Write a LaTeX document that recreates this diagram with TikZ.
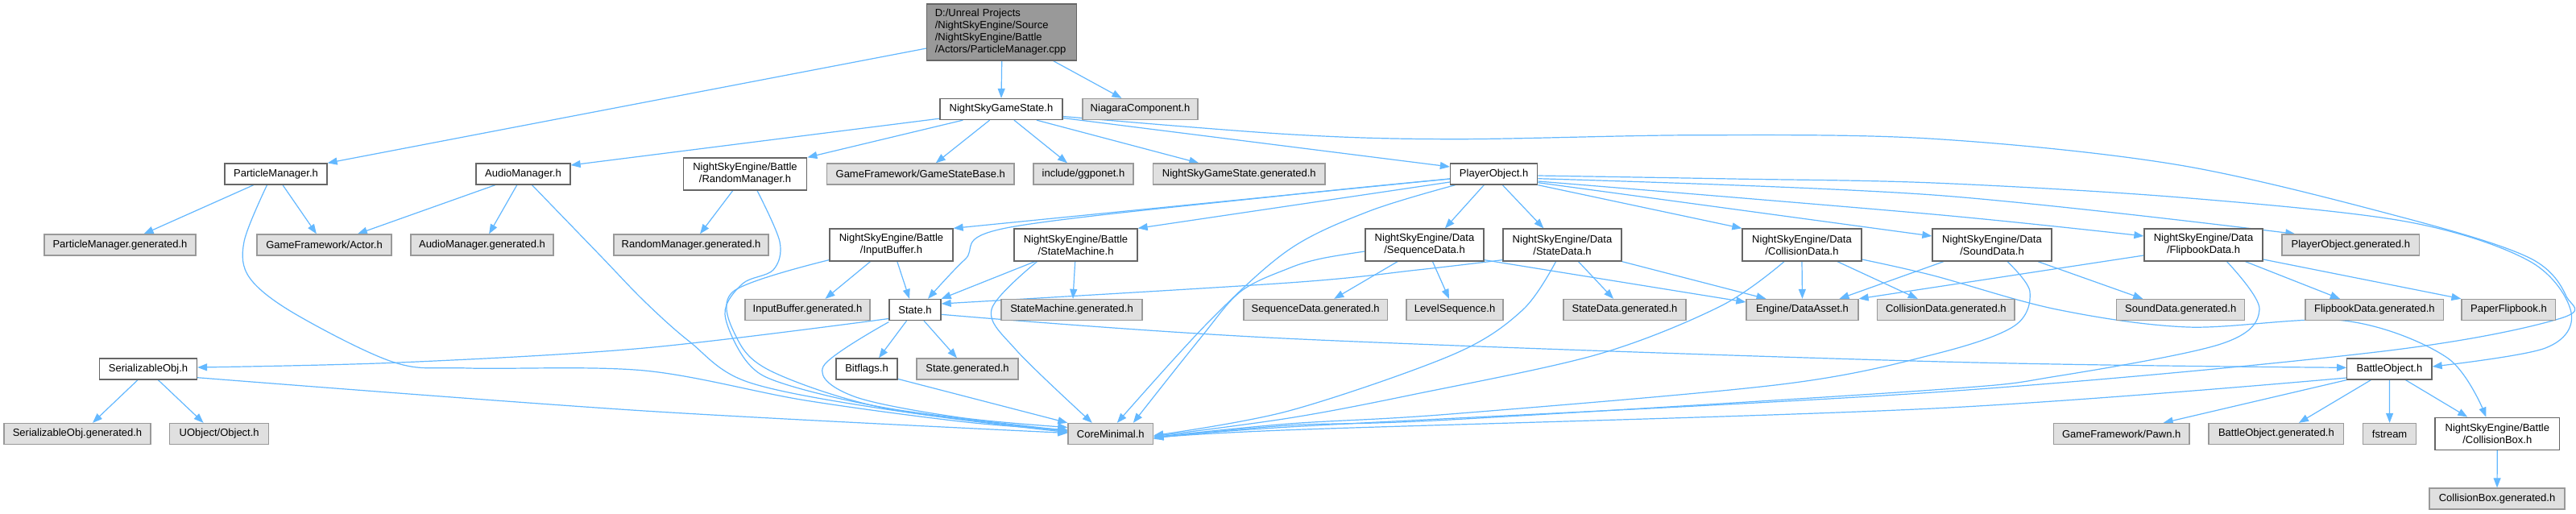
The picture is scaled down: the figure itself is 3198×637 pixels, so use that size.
\documentclass[tikz,border=0pt]{standalone}
\usepackage{fontspec}
\setmainfont{Liberation Sans}
\usetikzlibrary{arrows.meta}
\definecolor{edgeblue}{HTML}{63B8FF}
\definecolor{wborder}{HTML}{666666}
\definecolor{gborder}{HTML}{999999}
\definecolor{gfill}{HTML}{E0E0E0}
\definecolor{mainfill}{HTML}{999999}
\pgfdeclarelayer{bg}
\pgfsetlayers{bg,main}
\tikzset{
  base/.style={rectangle, line width=1.3pt, font=\fontsize{13}{15}\selectfont, inner xsep=2pt, inner ysep=0pt, minimum height=26pt, text=black},
  wbox/.style={base, draw=wborder, fill=white},
  gbox/.style={base, draw=gborder, fill=gfill},
  two/.style={minimum height=40pt, align=center},
  mainbox/.style={base, draw=wborder, fill=mainfill, minimum height=70pt, text width=166pt, inner xsep=10pt, align=left},
  edge/.style={draw=edgeblue, line width=1.2pt, -{Triangle[length=12pt,width=9pt]}},
  sm/.style={smooth, tension=0.55}
}
\begin{document}
\begin{tikzpicture}[x=1pt,y=-1pt]
\useasboundingbox (0,0) rectangle (3198,637);
% nodes
\node[mainbox] (main) at (1243.75,40) {D:/Unreal Projects\\/NightSkyEngine/Source\\/NightSkyEngine/Battle\\/Actors/ParticleManager.cpp};
\node[wbox, minimum width=152pt] (nsgs) at (1243,135.5) {NightSkyGameState.h};
\node[gbox, minimum width=143pt] (niagara) at (1415.5,135.5) {NiagaraComponent.h};
\node[wbox, minimum width=127pt] (pm) at (342.5,216) {ParticleManager.h};
\node[wbox, minimum width=117pt] (audio) at (649.5,216) {AudioManager.h};
\node[wbox, two, minimum width=153.5pt] (random) at (925,216) {NightSkyEngine/Battle\\/RandomManager.h};
\node[gbox, minimum width=232.5pt] (gsbase) at (1142.75,216) {GameFramework/GameStateBase.h};
\node[gbox, minimum width=124pt] (ggpo) at (1345,216) {include/ggponet.h};
\node[gbox, minimum width=213.4pt] (nsgsgen) at (1538.3,216) {NightSkyGameState.generated.h};
\node[wbox, minimum width=108.2pt] (player) at (1854.6,216) {PlayerObject.h};
\node[gbox, minimum width=188pt] (pmgen) at (149,304) {ParticleManager.generated.h};
\node[gbox, minimum width=167pt] (actor) at (402.5,304) {GameFramework/Actor.h};
\node[gbox, minimum width=177pt] (audiogen) at (598.5,304) {AudioManager.generated.h};
\node[gbox, minimum width=192pt] (randgen) at (858,304) {RandomManager.generated.h};
\node[wbox, two, minimum width=153pt] (input) at (1106.5,304) {NightSkyEngine/Battle\\/InputBuffer.h};
\node[wbox, two, minimum width=153pt] (smach) at (1335.5,304) {NightSkyEngine/Battle\\/StateMachine.h};
\node[wbox, two, minimum width=147pt] (seq) at (1768.5,304) {NightSkyEngine/Data\\/SequenceData.h};
\node[wbox, two, minimum width=147pt] (sdata) at (1939.5,304) {NightSkyEngine/Data\\/StateData.h};
\node[wbox, two, minimum width=148pt] (coll) at (2237,304) {NightSkyEngine/Data\\/CollisionData.h};
\node[wbox, two, minimum width=148pt] (sound) at (2473,304) {NightSkyEngine/Data\\/SoundData.h};
\node[wbox, two, minimum width=147pt] (flip) at (2735.5,304) {NightSkyEngine/Data\\/FlipbookData.h};
\node[gbox, minimum width=170.6pt] (pogen) at (2918.3,304) {PlayerObject.generated.h};
\node[gbox, minimum width=155pt] (ibgen) at (1002.5,384.5) {InputBuffer.generated.h};
\node[wbox, minimum width=64pt] (state) at (1136,384.5) {State.h};
\node[gbox, minimum width=175pt] (smgen) at (1330.5,384.5) {StateMachine.generated.h};
\node[gbox, minimum width=178.4pt] (seqgen) at (1633.2,384.5) {SequenceData.generated.h};
\node[gbox, minimum width=120pt] (levelseq) at (1806,384.5) {LevelSequence.h};
\node[gbox, minimum width=152pt] (sdgen) at (2017,384.5) {StateData.generated.h};
\node[gbox, minimum width=139pt] (dataasset) at (2237.5,384.5) {Engine/DataAsset.h};
\node[gbox, minimum width=170.4pt] (cdgen) at (2415.8,384.5) {CollisionData.generated.h};
\node[gbox, minimum width=159pt] (soundgen) at (2707.2,384.5) {SoundData.generated.h};
\node[gbox, minimum width=171.7pt] (flipgen) at (2947.9,384.5) {FlipbookData.generated.h};
\node[gbox, minimum width=116.7pt] (paper) at (3114.4,384.5) {PaperFlipbook.h};
\node[wbox, minimum width=121pt] (serial) at (184,458) {SerializableObj.h};
\node[wbox, minimum width=76pt] (bitflags) at (1076,458) {Bitflags.h};
\node[gbox, minimum width=126pt] (stategen) at (1201,458) {State.generated.h};
\node[wbox, minimum width=105.2pt] (battle) at (2966.4,458) {BattleObject.h};
\node[gbox, minimum width=182pt] (sogen) at (96,538.5) {SerializableObj.generated.h};
\node[gbox, minimum width=123pt] (uobject) at (272.2,538.5) {UObject/Object.h};
\node[gbox, minimum width=105.7pt] (core) at (1378.8,538.5) {CoreMinimal.h};
\node[gbox, minimum width=168.4pt] (pawn) at (2633.7,538.5) {GameFramework/Pawn.h};
\node[gbox, minimum width=167.7pt] (bogen) at (2825.9,538.5) {BattleObject.generated.h};
\node[gbox, minimum width=65.8pt] (fstream) at (2966.6,538.5) {fstream};
\node[wbox, two, minimum width=154.6pt] (cbox) at (3100.3,538.3) {NightSkyEngine/Battle\\/CollisionBox.h};
\node[gbox, minimum width=168pt] (cbgen) at (3100,619) {CollisionBox.generated.h};
% edges
\begin{pgfonlayer}{bg}
\fill[white] (0,0) rectangle (3198,637);
% main
\draw[edge] ([yshift=-20pt]main.west) -- (pm.north east);
\draw[edge] (main.south) -- (nsgs.north);
\draw[edge] ([xshift=64pt]main.south) -- ([xshift=-23pt]niagara.north);
% NightSkyGameState
\draw[edge] ([yshift=2pt]nsgs.south west) -- ([yshift=11pt]audio.east);
\draw[edge] ([xshift=-47.6pt]nsgs.south) -- (random.north east);
\draw[edge] ([xshift=-14.4pt]nsgs.south) -- ([xshift=19pt]gsbase.north);
\draw[edge] ([xshift=16pt]nsgs.south) -- ([xshift=-20pt]ggpo.north);
\draw[edge] ([xshift=44pt]nsgs.south) -- ([xshift=-50pt]nsgsgen.north);
\draw[edge] ([yshift=-11pt]nsgs.east) -- ([yshift=9pt]player.west);
\draw[edge] plot[sm] coordinates {([yshift=-9pt]nsgs.east) (1600,166.7) (1804,172.7) (2110,167.7) (2400,172.3) (2706,205) (2987,271) (3140,320) (3186,368) (3176,396) (2950,437) (2400,487) (1600,530) ([yshift=-6.5pt]core.east)};
% ParticleManager
\draw[edge] ([xshift=-27.7pt]pm.south) -- ([xshift=29.6pt]pmgen.north);
\draw[edge] ([xshift=8.5pt]pm.south) -- ([xshift=-9.6pt]actor.north);
\draw[edge] plot[sm] coordinates {([xshift=-11pt]pm.south) (303,300) (310,345) (367,390) (490,450) (582,457) (800,460) (1000,497) (1200,524) ([yshift=5pt]core.west)};
% AudioManager
\draw[edge] ([xshift=-34.7pt]audio.south) -- ([xshift=41.4pt]actor.north);
\draw[edge] ([xshift=-7.7pt]audio.south) -- ([xshift=8.6pt]audiogen.north);
\draw[edge] plot[sm] coordinates {([xshift=11pt]audio.south) (745,317) (800,374) (856,424) (928,474) (1100,508) ([yshift=3pt]core.west)};
% RandomManager
\draw[edge] ([xshift=-15.3pt]random.south) -- ([xshift=11pt]randgen.north);
\draw[edge] plot[sm] coordinates {([xshift=15pt]random.south) (968,300) (960,335) (922,352) (900,390) (928,450) (975,477) (1110,508) ([yshift=4pt]core.west)};
% InputBuffer
\draw[edge] ([xshift=-26pt]input.south) -- ([xshift=22pt]ibgen.north);
\draw[edge] ([xshift=7.3pt]input.south) -- ([xshift=-7pt]state.north);
\draw[edge] plot[sm] coordinates {([yshift=2pt]input.south west) (910,362) (915,420) (960,462) (1100,507) ([yshift=2pt]core.west)};
% StateMachine
\draw[edge] ([xshift=-0.8pt]smach.south) -- ([xshift=1.5pt]smgen.north);
\draw[edge] ([xshift=-50.8pt]smach.south) -- (state.north east);
\draw[edge] plot[sm] coordinates {([xshift=-48pt]smach.south) (1231,384) (1262,435) ([xshift=-23pt]core.north)};
% PlayerObject
\draw[edge] ([yshift=-6pt]player.west) -- (input.north east);
\draw[edge] plot[sm] coordinates {([yshift=-6pt]player.west) (1600,242) (1249,283) (1198,322) ([xshift=16pt]state.north)};
\draw[edge] ([yshift=-10pt]player.west) -- (smach.north east);
\draw[edge] plot[sm] coordinates {([xshift=-48pt]player.south) (1700,262) (1600,310) (1500,400) ([xshift=8pt]core.north)};
\draw[edge] ([xshift=-12.3pt]player.south) -- ([xshift=25.4pt]seq.north);
\draw[edge] ([xshift=10.7pt]player.south) -- ([xshift=-23.2pt]sdata.north);
\draw[edge] (player.south east) -- (coll.north west);
\draw[edge] ([yshift=-10.7pt]player.east) -- ([yshift=11pt]sound.west);
\draw[edge] plot[sm] coordinates {([yshift=-9pt]player.east) (2400,266) ([yshift=11pt]flip.west)};
\draw[edge] plot[sm] coordinates {([yshift=-5.7pt]player.east) (2400,242) ([xshift=-69pt]pogen.north)};
\draw[edge] plot[sm] coordinates {([yshift=-2pt]player.east) (2150,222) (2400,227) (2706,245) (2987,275) (3140,324) (3192,388) (3160,432) ([yshift=3pt]battle.east)};
% SequenceData
\draw[edge] ([xshift=-33.5pt]seq.south) -- ([xshift=23pt]seqgen.north);
\draw[edge] ([xshift=10pt]seq.south) -- ([xshift=-7pt]levelseq.north);
\draw[edge] ([yshift=2pt]seq.south east) -- ([yshift=9.5pt]dataasset.west);
\draw[edge] plot[sm] coordinates {([yshift=-8pt]seq.west) (1640,321) (1600,333) (1540,362) (1490,420) ([xshift=28pt]core.north)};
% StateData
\draw[edge] plot[sm] coordinates {([yshift=2pt]sdata.south west) (1760,335) (1600,351) ([yshift=7.5pt]state.east)};
\draw[edge] ([xshift=20pt]sdata.south) -- ([xshift=-14pt]sdgen.north);
\draw[edge] (sdata.south east) -- ([xshift=-45pt]dataasset.north);
\draw[edge] plot[sm] coordinates {([xshift=-8pt]sdata.south) (1890,385) (1804,440) (1600,510) ([yshift=-2pt]core.east)};
% CollisionData
\draw[edge] (coll.south) -- (dataasset.north);
\draw[edge] ([xshift=44pt]coll.south) -- ([xshift=-35pt]cdgen.north);
\draw[edge] plot[sm] coordinates {([xshift=-22pt]coll.south) (2136,380) (1983,440) (1753,490) (1600,519) ([yshift=-3pt]core.east)};
\draw[edge] plot[sm] coordinates {([yshift=-18pt]coll.east) (2400,342) (2553,384) (2716,406) (2910,398) (3038,444) ([xshift=-14pt]cbox.north)};
% SoundData
\draw[edge] ([xshift=-60pt]sound.south) -- ([xshift=46pt]dataasset.north);
\draw[edge] ([xshift=57pt]sound.south) -- ([xshift=-47pt]soundgen.north);
\draw[edge] plot[sm] coordinates {([xshift=19pt]sound.south) (2520,362) (2500,405) (2400,440) (2212,477) (1800,514) (1600,526) ([yshift=-4pt]core.east)};
% FlipbookData
\draw[edge] ([yshift=-13pt]flip.west) -- (dataasset.north east);
\draw[edge] ([xshift=52pt]flip.south) -- ([xshift=-43pt]flipgen.north);
\draw[edge] ([xshift=72.5pt,yshift=3pt]flip.south) -- (paper.north west);
\draw[edge] plot[sm] coordinates {([xshift=29pt]flip.south) (2805,384) (2757,427) (2553,467) (2400,484) (1800,521) (1600,528) ([yshift=-5pt]core.east)};
% State
\draw[edge] plot[sm] coordinates {([yshift=-11pt]state.west) (800,432) (495,450) ([yshift=2pt]serial.east)};
\draw[edge] ([xshift=-10.5pt]state.south) -- ([xshift=15pt]bitflags.north);
\draw[edge] ([xshift=11pt]state.south) -- ([xshift=-13pt]stategen.north);
\draw[edge] plot[sm] coordinates {([yshift=-5.8pt]state.east) (1600,420.3) (2400,448.7) ([yshift=1.7pt]battle.west)};
\draw[edge] plot[sm] coordinates {([yshift=-1.5pt]state.south west) (1022,455) (1060,492) (1190,518) ([yshift=8pt]core.west)};
% Bitflags
\draw[edge] ([yshift=1.3pt]bitflags.south east) -- (core.north west);
% SerializableObj
\draw[edge] ([xshift=-13pt]serial.south) -- ([xshift=19pt]sogen.north);
\draw[edge] ([xshift=12.4pt]serial.south) -- ([xshift=-19.6pt]uobject.north);
\draw[edge] plot[sm] coordinates {([yshift=-10.7pt]serial.east) (800,510) ([yshift=1pt]core.west)};
% BattleObject
\draw[edge] (battle.south west) -- ([xshift=52pt]pawn.north);
\draw[edge] ([xshift=-23pt]battle.south) -- ([xshift=28pt]bogen.north);
\draw[edge] (battle.south) -- (fstream.north);
\draw[edge] ([xshift=20pt]battle.south) -- ([xshift=-37pt]cbox.north);
\draw[edge] plot[sm] coordinates {([yshift=-11pt]battle.west) (2400,507) (1600,533.7) ([yshift=-6pt]core.east)};
% CollisionBox
\draw[edge] (cbox.south) -- (cbgen.north);
\end{pgfonlayer}
\end{tikzpicture}
\end{document}
